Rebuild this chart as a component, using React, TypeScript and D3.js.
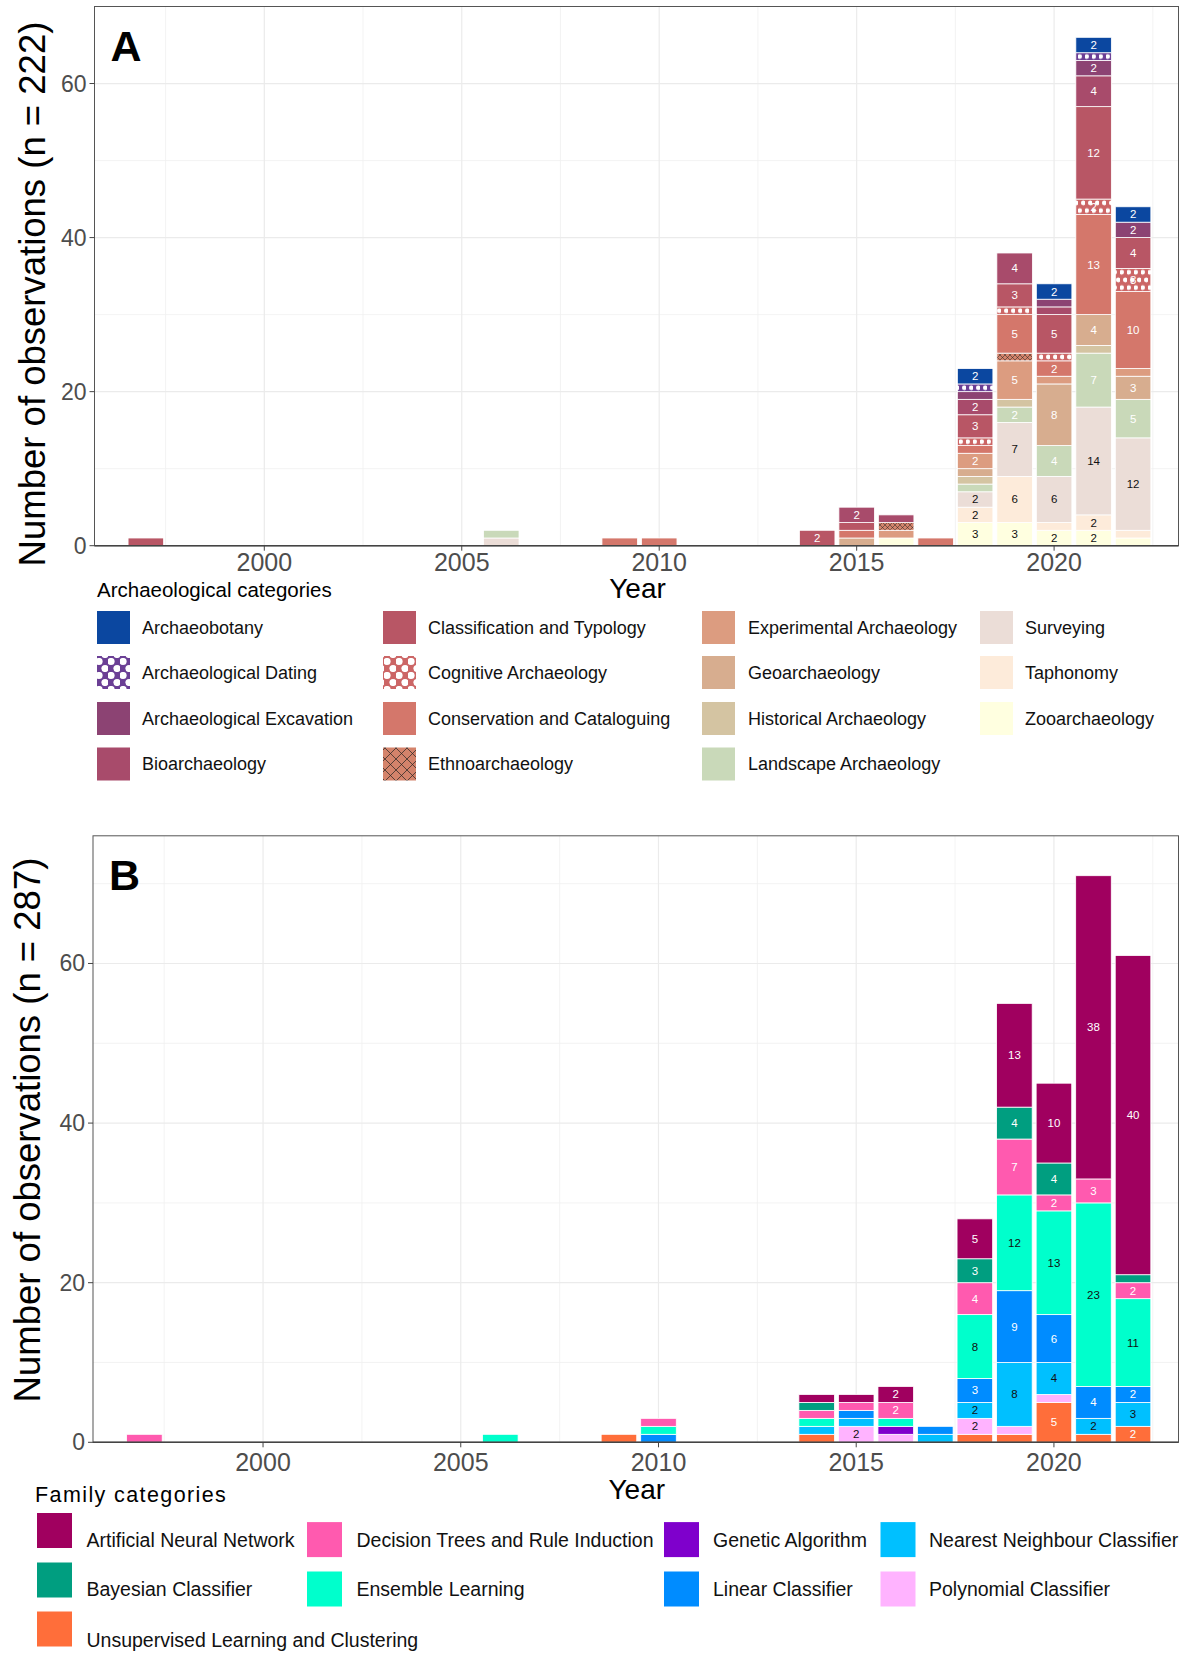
import React from 'react';
import * as d3 from 'd3';

const FONT = '"Liberation Sans", Arial, sans-serif';

// years shared by both panels
const years = [1997, 2006, 2009, 2010, 2014, 2015, 2016, 2017, 2018, 2019, 2020, 2021, 2022];

// ---- Panel A: archaeological categories (top of stack first) ----
const archCategories = [
  'Archaeobotany', 'Archaeological Dating', 'Archaeological Excavation', 'Bioarchaeology',
  'Classification and Typology', 'Cognitive Archaeology', 'Conservation and Cataloguing', 'Ethnoarchaeology',
  'Experimental Archaeology', 'Geoarchaeology', 'Historical Archaeology', 'Landscape Archaeology',
  'Surveying', 'Taphonomy', 'Zooarchaeology',
];
const archColors = [
  '#0b47a0', '#6b3f95', '#8c4373', '#a84b6b',
  '#b85665', '#cc6666', '#d4776b', '#d4836b',
  '#dc9c80', '#d7ad8f', '#d4c4a2', '#c9d9b9',
  '#ebddd7', '#fdebda', '#ffffe0',
];
const archaeobotany = [0, 0, 0, 0, 0, 0, 0, 0, 2, 0, 2, 2, 2];
const archDating = [0, 0, 0, 0, 0, 0, 0, 0, 1, 0, 0, 1, 0];
const archExcavation = [0, 0, 0, 0, 0, 0, 0, 0, 1, 0, 1, 2, 2];
const bioarchaeology = [0, 0, 0, 0, 0, 2, 1, 0, 2, 4, 1, 4, 0];
const classification = [1, 0, 0, 0, 2, 1, 0, 0, 3, 3, 5, 12, 4];
const cognitive = [0, 0, 0, 0, 0, 0, 0, 0, 1, 1, 1, 2, 3];
const conservation = [0, 0, 1, 1, 0, 1, 0, 1, 1, 5, 2, 13, 10];
const ethnoarchaeology = [0, 0, 0, 0, 0, 0, 1, 0, 0, 1, 0, 0, 0];
const experimental = [0, 0, 0, 0, 0, 0, 1, 0, 2, 5, 1, 0, 1];
const geoarchaeology = [0, 0, 0, 0, 0, 1, 0, 0, 1, 0, 8, 4, 3];
const historical = [0, 0, 0, 0, 0, 0, 0, 0, 1, 1, 0, 1, 0];
const landscape = [0, 1, 0, 0, 0, 0, 0, 0, 1, 2, 4, 7, 5];
const surveying = [0, 1, 0, 0, 0, 0, 0, 0, 2, 7, 6, 14, 12];
const taphonomy = [0, 0, 0, 0, 0, 0, 0, 0, 2, 6, 1, 2, 1];
const zooarchaeology = [0, 0, 0, 0, 0, 0, 1, 0, 3, 3, 2, 2, 1];
const archValues = [
  archaeobotany, archDating, archExcavation, bioarchaeology, classification, cognitive,
  conservation, ethnoarchaeology, experimental, geoarchaeology, historical, landscape,
  surveying, taphonomy, zooarchaeology,
];
const archPatterns: Record<string, string> = {
  'Archaeological Dating': 'dots',
  'Cognitive Archaeology': 'dots',
  'Ethnoarchaeology': 'cross',
};
const archDarkText = ['Surveying', 'Taphonomy', 'Zooarchaeology'];

// ---- Panel B: family categories ----
const famCategories = [
  'Artificial Neural Network', 'Bayesian Classifier', 'Decision Trees and Rule Induction',
  'Ensemble Learning', 'Genetic Algorithm', 'Linear Classifier', 'Nearest Neighbour Classifier',
  'Polynomial Classifier', 'Unsupervised Learning and Clustering',
];
const famColors = ['#a0005f', '#009e80', '#ff5aaf', '#00ffcc', '#7f00cc', '#008cff', '#00c0ff', '#ffb3ff', '#ff6e3a'];
const neuralNetwork = [0, 0, 0, 0, 1, 1, 2, 0, 5, 13, 10, 38, 40];
const bayesian = [0, 0, 0, 0, 1, 0, 0, 0, 3, 4, 4, 0, 1];
const decisionTrees = [1, 0, 0, 1, 1, 1, 2, 0, 4, 7, 2, 3, 2];
const ensemble = [0, 1, 0, 1, 1, 0, 1, 0, 8, 12, 13, 23, 11];
const genetic = [0, 0, 0, 0, 0, 0, 1, 0, 0, 0, 0, 0, 0];
const linear = [0, 0, 0, 1, 0, 1, 0, 1, 3, 9, 6, 4, 2];
const nearestNeighbour = [0, 0, 0, 0, 1, 1, 0, 1, 2, 8, 4, 2, 3];
const polynomial = [0, 0, 0, 0, 0, 2, 1, 0, 2, 1, 1, 0, 0];
const unsupervised = [0, 0, 1, 0, 1, 0, 0, 0, 1, 1, 5, 1, 2];
const famValues = [neuralNetwork, bayesian, decisionTrees, ensemble, genetic, linear, nearestNeighbour, polynomial, unsupervised];
const famDarkText = ['Ensemble Learning', 'Nearest Neighbour Classifier', 'Polynomial Classifier'];

const xMajor = [2000, 2005, 2010, 2015, 2020];
const xMinor = [1997.5, 2002.5, 2007.5, 2012.5, 2017.5, 2022.5];

function Panel(props: any) {
  const { id, categories, colors, values, patterns, darkText, left, right, top, bottom, yMax, yTitle, tag } = props;
  const x = d3.scaleLinear().domain([1995.7, 2023.15]).range([left, right]);
  const y = d3.scaleLinear().domain([0, yMax]).range([bottom, top]);
  const unit = y(0) - y(1);
  const bw = (x(1) - x(0)) * 0.9;

  const rows = years.map((yr, i) => {
    const r: any = { year: yr };
    categories.forEach((c: string, j: number) => (r[c] = values[j][i]));
    return r;
  });
  const series = d3.stack<any>().keys([...categories].reverse())(rows);
  const colorOf = (k: string) => colors[categories.indexOf(k)];
  const fillOf = (k: string) =>
    patterns && patterns[k] ? `url(#${id}-bar-${categories.indexOf(k)})` : colorOf(k);

  const yMajor = d3.range(0, yMax + 0.01, 20);
  const yMinor = d3.range(10, yMax + 0.01, 20);

  return (
    <g>
      <defs>
        {patterns &&
          Object.keys(patterns).map((k) => {
            const i = categories.indexOf(k);
            if (patterns[k] === 'dots') {
              return (
                <pattern key={k} id={`${id}-bar-${i}`} patternUnits="userSpaceOnUse" x={0} y={y(0)} width={7} height={unit * 2}>
                  <rect width={7} height={unit * 2} fill={colors[i]} />
                  <circle cx={1.75} cy={unit * 0.5} r={2.3} fill="white" />
                  <circle cx={5.25} cy={unit * 1.5} r={2.3} fill="white" />
                </pattern>
              );
            }
            return (
              <pattern key={k} id={`${id}-bar-${i}`} patternUnits="userSpaceOnUse" width={5} height={5}>
                <rect width={5} height={5} fill={colors[i]} />
                <path d="M0,0L5,5M5,0L0,5" stroke="#222" strokeWidth={0.5} />
              </pattern>
            );
          })}
      </defs>
      {/* grid */}
      {yMinor.map((v: number) => (
        <line key={'ym' + v} x1={left} x2={right} y1={y(v)} y2={y(v)} stroke="#f0f0f0" strokeWidth={0.8} />
      ))}
      {xMinor.map((v) => (
        <line key={'xm' + v} x1={x(v)} x2={x(v)} y1={top} y2={bottom} stroke="#f0f0f0" strokeWidth={0.8} />
      ))}
      {yMajor.map((v: number) => (
        <line key={'yM' + v} x1={left} x2={right} y1={y(v)} y2={y(v)} stroke="#ebebeb" strokeWidth={1.2} />
      ))}
      {xMajor.map((v) => (
        <line key={'xM' + v} x1={x(v)} x2={x(v)} y1={top} y2={bottom} stroke="#ebebeb" strokeWidth={1.2} />
      ))}
      {/* bars */}
      {series.map((s: any) =>
        s.map((d: any, i: number) => {
          const v = d[1] - d[0];
          if (v <= 0) return null;
          return (
            <rect
              key={s.key + i}
              x={x(d.data.year) - bw / 2}
              y={y(d[1])}
              width={bw}
              height={y(d[0]) - y(d[1])}
              fill={fillOf(s.key)}
              stroke="white"
              strokeWidth={0.8}
            />
          );
        })
      )}
      {series.map((s: any) =>
        s.map((d: any, i: number) => {
          const v = d[1] - d[0];
          if (v < 2) return null;
          return (
            <text
              key={'t' + s.key + i}
              x={x(d.data.year)}
              y={y((d[0] + d[1]) / 2)}
              textAnchor="middle"
              dominantBaseline="central"
              fontFamily={FONT}
              fontSize={11.5}
              fill={darkText.includes(s.key) ? '#111' : 'white'}
            >
              {v}
            </text>
          );
        })
      )}
      {/* border */}
      <rect x={left} y={top} width={right - left} height={bottom - top} fill="none" stroke="#555" strokeWidth={1} />
      <line x1={left} x2={right} y1={bottom} y2={bottom} stroke="#444" strokeWidth={1.5} />
      {/* y ticks */}
      {yMajor.map((v: number) => (
        <g key={'yt' + v}>
          <line x1={left - 5} x2={left} y1={y(v)} y2={y(v)} stroke="#444" />
          <text x={left - 8} y={y(v)} textAnchor="end" dominantBaseline="central" fontFamily={FONT} fontSize={23} fill="#4d4d4d">
            {v}
          </text>
        </g>
      ))}
      {/* x ticks */}
      {xMajor.map((v) => (
        <g key={'xt' + v}>
          <line x1={x(v)} x2={x(v)} y1={bottom} y2={bottom + 5} stroke="#444" />
          <text x={x(v)} y={bottom + props.xLabelDy} textAnchor="middle" fontFamily={FONT} fontSize={25} fill="#4d4d4d">
            {v}
          </text>
        </g>
      ))}
      <text x={(left + right) / 2 + 1} y={bottom + props.xTitleDy} textAnchor="middle" fontFamily={FONT} fontSize={28} fill="#000">
        Year
      </text>
      <text
        transform={`translate(${props.yTitleX},${props.yTitleY}) rotate(-90)`}
        textAnchor="middle"
        dominantBaseline="central"
        fontFamily={FONT}
        fontSize={36.5}
        fill="#000"
      >
        {yTitle}
      </text>
      <text x={left + 16} y={top + 54} fontFamily={FONT} fontSize={43} fontWeight="bold" fill="#000">
        {tag}
      </text>
    </g>
  );
}

function Legend(props: any) {
  const { id, title, titleX, titleY, titleSize, categories, colors, patterns, columns, keyX, labelX, rowY, keyY, keySize, fontSize } = props;
  return (
    <g>
      <defs>
        {patterns &&
          Object.keys(patterns).map((k) => {
            const i = categories.indexOf(k);
            if (patterns[k] === 'dots') {
              return (
                <pattern key={k} id={`${id}-key-${i}`} patternUnits="userSpaceOnUse" width={12} height={14}>
                  <rect width={12} height={14} fill={colors[i]} />
                  <circle cx={3} cy={3.5} r={3.6} fill="white" />
                  <circle cx={9} cy={10.5} r={3.6} fill="white" />
                </pattern>
              );
            }
            return (
              <pattern key={k} id={`${id}-key-${i}`} patternUnits="userSpaceOnUse" width={11} height={11}>
                <rect width={11} height={11} fill={colors[i]} />
                <path d="M0,0L11,11M11,0L0,11" stroke="#222" strokeWidth={0.7} />
              </pattern>
            );
          })}
      </defs>
      <text x={titleX} y={titleY} fontFamily={FONT} fontSize={titleSize} fill="#000" letterSpacing={props.titleSpacing || 0}>
        {title}
      </text>
      {columns.map((col: number[], ci: number) =>
        col.map((idx: number, ri: number) => {
          const cy = rowY[ri];
          const ky = keyY ? keyY[ci][ri] : cy;
          const k = categories[idx];
          const fill = patterns && patterns[k] ? `url(#${id}-key-${idx})` : colors[idx];
          return (
            <g key={k}>
              <rect x={keyX[ci]} y={ky - keySize / 2} width={keySize} height={keySize} fill={fill} />
              <text x={labelX[ci]} y={cy} dominantBaseline="central" fontFamily={FONT} fontSize={fontSize} fill="#111">
                {k}
              </text>
            </g>
          );
        })
      )}
    </g>
  );
}

export default function App() {
  return (
    <svg
      width={1180}
      height={1654}
      viewBox="0 0 1180 1654"
      style={{ position: 'absolute', left: 0, top: 0, background: 'white' }}
    >
      <rect width={1180} height={1654} fill="white" />
      <Panel
        id="a"
        categories={archCategories}
        colors={archColors}
        values={archValues}
        patterns={archPatterns}
        darkText={archDarkText}
        left={94.5}
        right={1178.5}
        top={6.5}
        bottom={545.7}
        yMax={70}
        yTitle="Number of observations (n = 222)"
        yTitleX={32}
        yTitleY={294}
        xLabelDy={25}
        xTitleDy={52}
        tag="A"
      />
      <Legend
        id="a"
        title="Archaeological categories"
        titleX={97}
        titleY={597}
        titleSize={20.5}
        categories={archCategories}
        colors={archColors}
        patterns={archPatterns}
        columns={[[0, 1, 2, 3], [4, 5, 6, 7], [8, 9, 10, 11], [12, 13, 14]]}
        keyX={[97, 383, 702, 980]}
        labelX={[142, 428, 748, 1025]}
        rowY={[627.5, 672.5, 718.5, 764]}
        keySize={33}
        fontSize={18}
      />
      <Panel
        id="b"
        categories={famCategories}
        colors={famColors}
        values={famValues}
        darkText={famDarkText}
        left={93}
        right={1178.5}
        top={835.8}
        bottom={1442.3}
        yMax={76}
        yTitle="Number of observations (n = 287)"
        yTitleX={27}
        yTitleY={1130}
        xLabelDy={29}
        xTitleDy={57}
        tag="B"
      />
      <Legend
        id="b"
        title="Family categories"
        titleX={35}
        titleY={1502}
        titleSize={21.5}
        titleSpacing={1.4}
        categories={famCategories}
        colors={famColors}
        columns={[[0, 1, 8], [2, 3], [4, 5], [6, 7]]}
        keyX={[37, 307, 664, 880.5]}
        labelX={[86.5, 356.5, 713, 929]}
        rowY={[1539.6, 1589, 1639.8]}
        keyY={[[1530.5, 1580, 1629], [1539.6, 1589], [1539.6, 1589], [1539.6, 1589]]}
        keySize={35}
        fontSize={19.5}
      />
    </svg>
  );
}
